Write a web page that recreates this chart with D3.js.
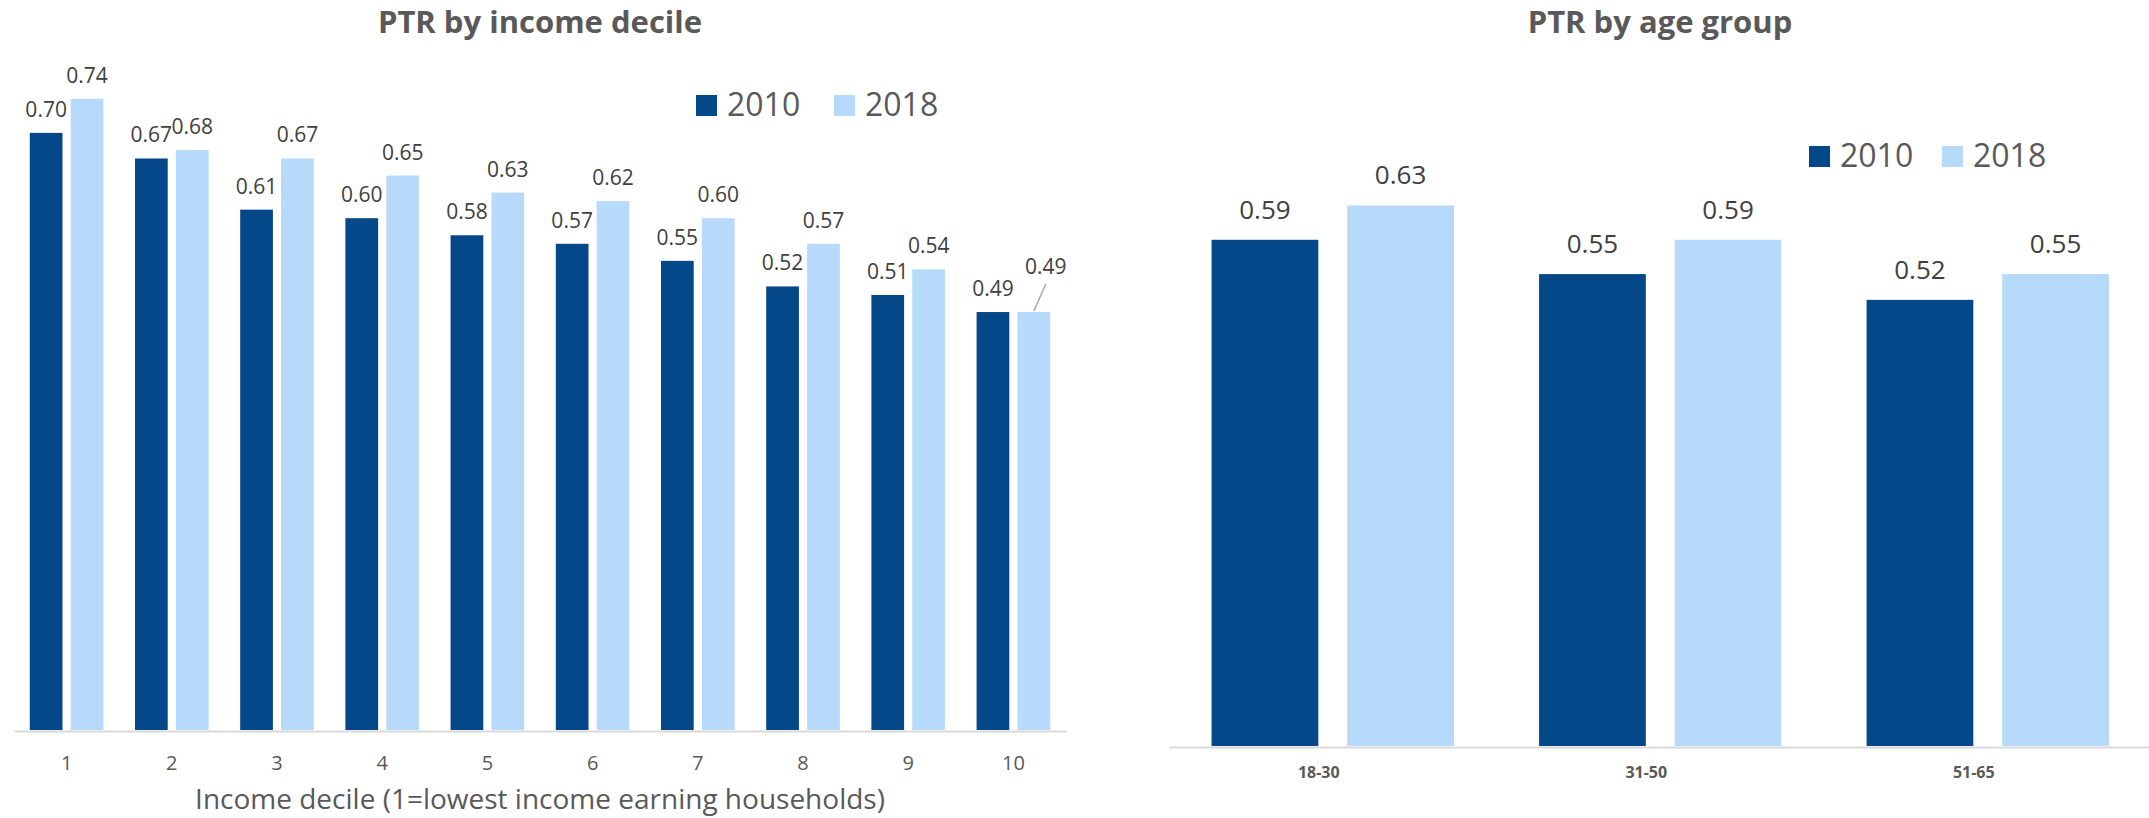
<!DOCTYPE html>
<html>
<head>
<meta charset="utf-8">
<script src="https://cdn.jsdelivr.net/npm/d3@7"></script>
<style>
  html, body { margin: 0; padding: 0; background: #ffffff; }
  svg { display: block; font-family: "Open Sans", "Noto Sans", sans-serif; }
</style>
</head>
<body>
<svg id="chart" width="2149" height="818"></svg>
<script>
// Series shown in both panels
const years = ["2010", "2018"];
const yearColors = ["#05488A", "#B7D9FA"];

// Left panel: PTR by income decile
const incomeDeciles = ["1", "2", "3", "4", "5", "6", "7", "8", "9", "10"];
const income2010 = [0.70, 0.67, 0.61, 0.60, 0.58, 0.57, 0.55, 0.52, 0.51, 0.49];
const income2018 = [0.74, 0.68, 0.67, 0.65, 0.63, 0.62, 0.60, 0.57, 0.54, 0.49];

// Right panel: PTR by age group
const ageGroups = ["18-30", "31-50", "51-65"];
const age2010 = [0.59, 0.55, 0.52];
const age2018 = [0.63, 0.59, 0.55];

const svg = d3.select("#chart");
svg.append("rect").attr("width", 2149).attr("height", 818).attr("fill", "#ffffff");

const fmt = d3.format(".2f");

function drawPanel(cfg) {
  const g = svg.append("g");
  const x0 = d3.scaleBand()
    .domain(cfg.categories)
    .range(cfg.xRange)
    .paddingInner(cfg.padInner)
    .paddingOuter(cfg.padOuter);
  const x1 = d3.scaleBand()
    .domain(years)
    .range([0, x0.bandwidth()])
    .paddingInner(cfg.barGap);
  const y = d3.scaleLinear().domain([0, 0.8]).range([cfg.baseline, cfg.baseline - 0.8 * cfg.pxPerUnit]);

  const rows = cfg.categories.map((c, i) => ({
    cat: c,
    vals: [
      { year: years[0], v: cfg.series[0][i], i },
      { year: years[1], v: cfg.series[1][i], i }
    ]
  }));

  const groups = g.selectAll("g.grp").data(rows).join("g")
    .attr("class", "grp")
    .attr("transform", d => `translate(${x0(d.cat)},0)`);

  groups.selectAll("rect").data(d => d.vals).join("rect")
    .attr("x", d => x1(d.year))
    .attr("y", d => y(d.v))
    .attr("width", x1.bandwidth())
    .attr("height", d => y(0) - y(d.v))
    .attr("fill", d => yearColors[years.indexOf(d.year)]);

  // value labels (one may be lifted aside with a leader line)
  groups.each(function (row) {
    const gg = d3.select(this);
    row.vals.forEach(d => {
      const cx = x1(d.year) + x1.bandwidth() / 2;
      const top = y(d.v);
      const off = cfg.labelOffsets ? cfg.labelOffsets(row.cat, d.year) : null;
      const dx = off ? off[0] : 0;
      const dy = off ? off[1] : 0;
      const ly = top - cfg.labelGap + dy;
      if (off) {
        gg.append("line")
          .attr("x1", cx + dx).attr("y1", ly + 10)
          .attr("x2", cx).attr("y2", top - 1)
          .attr("stroke", "#a6a6a6").attr("stroke-width", 1.5);
      }
      gg.append("text")
        .attr("x", cx + dx)
        .attr("y", ly)
        .attr("text-anchor", "middle")
        .attr("font-size", cfg.labelSize)
        .attr("fill", "#404040")
        .text(fmt(d.v));
    });
  });

  // category axis
  const axis = g.append("g")
    .attr("transform", `translate(0,${cfg.baseline + 1})`)
    .call(d3.axisBottom(x0).tickSize(0).tickSizeOuter(0));
  axis.select(".domain").attr("stroke", "#d9d9d9").attr("stroke-width", 2);
  axis.selectAll("text")
    .attr("y", cfg.tickY)
    .attr("dy", null)
    .attr("dx", cfg.tickDx)
    .attr("font-family", "'Open Sans', sans-serif")
    .attr("font-size", cfg.tickSize)
    .attr("font-weight", cfg.tickWeight)
    .attr("fill", "#595959");

  // title
  g.append("text")
    .attr("x", cfg.titleX).attr("y", 33)
    .attr("text-anchor", "middle")
    .attr("font-size", 31).attr("font-weight", 700)
    .attr("fill", "#595959")
    .text(cfg.title);

  // legend
  const leg = g.append("g").attr("transform", `translate(${cfg.legendX},${cfg.legendY})`);
  years.forEach((yr, k) => {
    const it = leg.append("g").attr("transform", `translate(${k * cfg.legendStep},0)`);
    it.append("rect").attr("x", 0).attr("y", 0).attr("width", 21).attr("height", 21)
      .attr("fill", yearColors[k]);
    it.append("text").attr("x", 31).attr("y", 21)
      .attr("font-size", 32).attr("fill", "#595959").text(yr);
  });

  if (cfg.axisTitle) {
    g.append("text")
      .attr("x", (cfg.xRange[0] + cfg.xRange[1]) / 2).attr("y", 809)
      .attr("text-anchor", "middle")
      .attr("font-size", 28).attr("fill", "#595959")
      .text(cfg.axisTitle);
  }
}

drawPanel({
  categories: incomeDeciles,
  series: [income2010, income2018],
  xRange: [14, 1066],
  padInner: 0.3, padOuter: 0.15, barGap: 0.2,
  baseline: 730, pxPerUnit: 853,
  labelGap: 16, labelSize: 21,
  labelOffsets: (cat, yr) => (cat === "10" && yr === "2018") ? [12, -22] : null,
  tickY: 39, tickDx: 0, tickSize: 20, tickWeight: 400,
  title: "PTR by income decile", titleX: 540,
  legendX: 696, legendY: 95, legendStep: 138,
  axisTitle: "Income decile (1=lowest income earning households)"
});

drawPanel({
  categories: ageGroups,
  series: [age2010, age2018],
  xRange: [1169, 2151.5],
  padInner: 0.26, padOuter: 0.13, barGap: 0.213,
  baseline: 746, pxPerUnit: 858,
  labelGap: 21, labelSize: 26,
  labelOffsets: null,
  tickY: 31, tickDx: -14, tickSize: 16, tickWeight: 700,
  title: "PTR by age group", titleX: 1660,
  legendX: 1809, legendY: 146, legendStep: 133,
  axisTitle: null
});
</script>
</body>
</html>
